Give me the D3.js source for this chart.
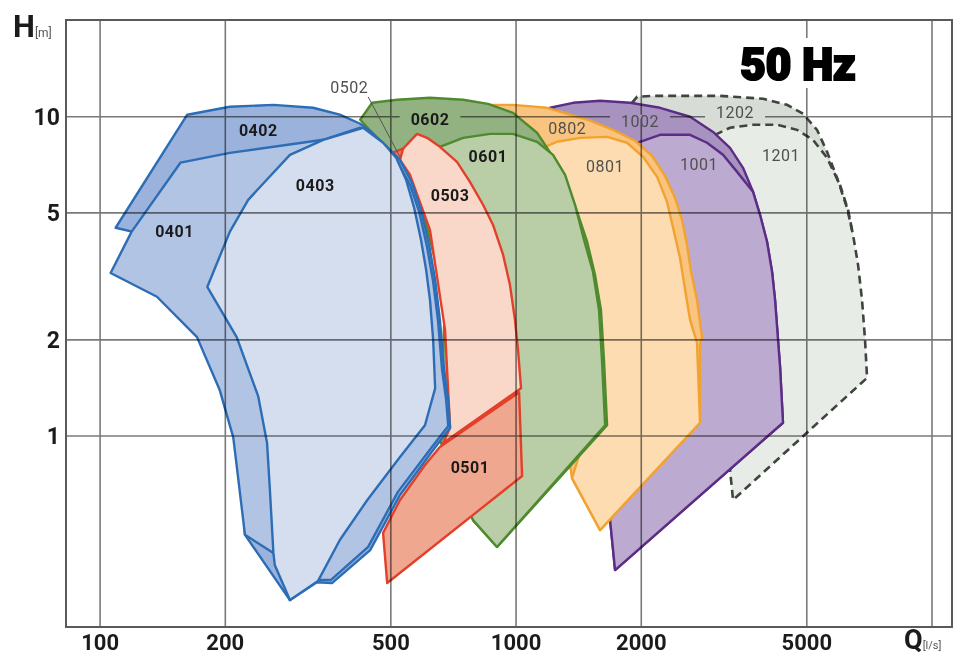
<!DOCTYPE html>
<html>
<head>
<meta charset="utf-8">
<script src="https://cdn.jsdelivr.net/npm/d3@7/dist/d3.min.js"></script>
<style>
  body { margin: 0; background: #fff; }
  svg { display: block; font-family: Roboto, "DejaVu Sans", sans-serif; }
</style>
</head>
<body>
<svg id="chart" width="965" height="656"></svg>
<script>
// axes
var xTicks = [100, 200, 500, 1000, 2000, 5000];
var xGrid = [100, 200, 500, 1000, 2000, 5000, 10000];
var yTicks = [1, 2, 5, 10];

// operating ranges as [Q l/s, H m] outlines
var range1202 = [[1900,11.06],[1954,11.55],[2135,11.63],[3094,11.63],[3926,11.39],[4481,10.9],[4897,10.22],[5292,9.1],[5593,7.77],[5910,6.44],[6248,5.18],[6458,4.27],[6640,3.44],[6788,2.67],[6902,2.0],[6980,1.52],[3324,0.63],[3269,0.782],[3859,1.12],[3859,3.83],[2620,9.44]];
var range1201 = [[3009,8.78],[3269,9.24],[3713,9.44],[4241,9.44],[4737,9.1],[5174,8.47],[5593,7.44],[6008,6.12],[6283,5.11],[6458,4.27],[6640,3.44],[6788,2.67],[6902,2.0],[6980,1.52],[3324,0.63],[3269,0.782],[3859,1.12],[3859,3.83]];
var range1002 = [[1207,10.67],[1371,11.06],[1592,11.22],[1879,11.06],[2219,10.67],[2620,10.0],[2976,8.96],[3269,7.99],[3513,6.92],[3713,5.82],[3859,4.93],[4012,4.06],[4125,3.27],[4194,2.67],[4312,1.645],[4383,1.10],[1730,0.38],[1683,0.545],[1986,0.904],[2219,2.67],[1778,8.47]];
var range1001 = [[1986,8.35],[2219,8.78],[2620,8.78],[2878,8.29],[3145,7.6],[3399,6.72],[3713,5.82],[3859,4.93],[4012,4.06],[4125,3.27],[4194,2.67],[4312,1.645],[4383,1.10],[1730,0.38],[1683,0.545],[1986,0.904],[2219,2.67],[1879,8.05]];
var range0802 = [[866,10.9],[983,10.9],[1187,10.67],[1327,10.22],[1506,9.72],[1711,9.1],[1932,8.41],[2123,7.55],[2281,6.53],[2411,5.57],[2506,4.76],[2577,3.97],[2635,3.27],[2723,2.67],[2799,2.04],[2769,1.93],[2769,1.1],[1592,0.507],[1363,0.738],[1276,1.3],[1349,3.83],[1142,7.33]];
var range0801 = [[1174,8.05],[1255,8.35],[1425,8.59],[1655,8.65],[1849,8.29],[2020,7.49],[2183,6.48],[2307,5.41],[2385,4.49],[2479,3.61],[2549,2.87],[2620,2.31],[2723,1.96],[2769,1.1],[1592,0.507],[1363,0.738],[1506,1.12],[1548,2.67],[1312,5.49]];
var range0602 = [[422,9.79],[451,11.06],[518,11.31],[621,11.47],[746,11.31],[856,10.98],[983,10.29],[1123,8.91],[1227,7.49],[1327,6.12],[1402,5.04],[1482,4.06],[1548,3.2],[1600,2.48],[1627,1.73],[1655,1.08],[900,0.449],[788,0.545],[656,0.97],[675,2.67],[588,5.49],[515,7.44],[451,8.91]];
var range0601 = [[656,8.05],[746,8.59],[866,8.84],[983,8.84],[1123,8.35],[1227,7.6],[1312,6.58],[1386,5.3],[1457,4.11],[1531,3.27],[1583,2.48],[1609,1.73],[1637,1.08],[900,0.449],[788,0.545],[694,0.782],[915,2.67],[713,6.58]];
var range0501 = [[656,0.924],[1017,1.37],[1034,0.749],[490,0.346],[479,0.497],[526,0.63],[604,0.811]];
var range0503 = [[520,7.49],[532,7.88],[578,8.84],[611,8.59],[656,8.05],[721,7.22],[774,6.26],[833,5.3],[880,4.59],[931,3.69],[967,2.97],[994,2.31],[1011,1.86],[1028,1.41],[668,0.95],[694,1.06],[675,2.15],[621,4.42],[556,6.58]];
var range0502 = [[503,7.71],[535,7.94],[526,7.33]];
var range0402 = [[109,4.49],[162,10.15],[205,10.75],[261,10.9],[325,10.67],[377,10.15],[422,9.51],[451,8.91],[487,8.11],[526,7.33],[562,6.21],[591,5.11],[618,3.97],[639,3.08],[656,2.31],[671,1.61],[687,1.30],[694,1.06],[632,0.904],[526,0.653],[446,0.439],[361,0.346],[332,0.348],[286,0.306],[223,0.49],[217,0.97],[174,2.67],[132,4.11],[120,4.36]];
var range0401 = [[106,3.24],[119,4.36],[156,7.18],[205,7.71],[344,8.47],[422,9.24],[482,8.05],[520,7.18],[556,6.12],[585,5.04],[611,3.91],[632,3.04],[649,2.31],[664,1.61],[679,1.30],[687,1.075],[625,0.917],[520,0.668],[441,0.449],[359,0.354],[332,0.354],[286,0.306],[261,0.43],[223,0.49],[215,0.728],[209,0.99],[194,1.39],[171,2.04],[137,2.73]];
var range0403 = [[181,2.93],[205,4.36],[227,5.49],[249,6.26],[286,7.6],[344,8.47],[429,9.24],[479,8.29],[515,7.44],[544,6.35],[569,5.18],[591,4.11],[608,3.31],[621,2.67],[632,2.0],[639,1.41],[604,1.08],[526,0.859],[439,0.63],[377,0.472],[334,0.351],[303,0.322],[286,0.306],[263,0.394],[261,0.43],[256,0.677],[252,0.95],[240,1.33],[213,2.04]];

// labels
var labelNames = ['0402', '0403', '0401', '0503', '0602', '0601', '0501', '0502', '0802', '0801', '1002', '1001', '1202', '1201'];
var labelQ = [240, 329, 151, 694, 621, 856, 775, 397, 1327, 1637, 1986, 2754, 3361, 4336];
var labelH = [9.04, 6.08, 4.36, 5.65, 9.79, 7.49, 0.794, 12.33, 9.17, 6.97, 9.65, 7.07, 10.29, 7.55];
var leader0502 = [[441, 11.55], [526, 7.49]];

var blue = '#2c6db5', red = '#e2402b', green = '#4f8a2e', orange = '#f2a230', purple = '#5b2d86', grey = '#3f443f';

// draw order: back to front. the two grey ranges are dashed and
// get their outlines after both fills, so neither fill eats a dash
var greyShapes = [
  {id: '1202', pts: range1202, fill: '#d7ddd6', stroke: grey, dash: '8,5'},
  {id: '1201', pts: range1201, fill: '#e8ece7', stroke: grey, dash: '8,5', edge: 10}
];
var shapes = [
  {id: '1002', pts: range1002, fill: '#a893c0', stroke: purple},
  {id: '1001', pts: range1001, fill: '#bcaad0', stroke: purple},
  {id: '0802', pts: range0802, fill: '#f8c47f', stroke: orange},
  {id: '0801', pts: range0801, fill: '#fcdcb0', stroke: orange},
  {id: '0602', pts: range0602, fill: '#93b281', stroke: green},
  {id: '0601', pts: range0601, fill: '#b9cda6', stroke: green},
  {id: '0501', pts: range0501, fill: '#f0a78f', stroke: red},
  {id: '0503', pts: range0503, fill: '#f9d8ca', stroke: red},
  {id: '0502', pts: range0502, fill: '#ee7a5c', stroke: red},
  {id: '0402', pts: range0402, fill: '#9bb3dc', stroke: blue},
  {id: '0401', pts: range0401, fill: '#b2c4e4', stroke: blue},
  {id: '0403', pts: range0403, fill: '#d5deef', stroke: blue}
];

var width = 965, height = 656;
var margin = {top: 20, right: 13, bottom: 29, left: 66};

var svg = d3.select('#chart');

var x = d3.scaleLog()
  .domain([82.8, 11170])
  .range([margin.left, width - margin.right]);

var y = d3.scaleLog()
  .domain([0.252, 20.1])
  .range([height - margin.bottom, margin.top]);

var line = d3.line()
  .x(function (d) { return x(d[0]); })
  .y(function (d) { return y(d[1]); });

// SHAPES
var shapeG = svg.append('g').attr('class', 'ranges');

// grey: fills first, then dashed outlines
greyShapes.forEach(function (s) {
  shapeG.append('path')
    .attr('d', line(s.pts) + 'Z')
    .attr('fill', s.fill);
});
greyShapes.forEach(function (s) {
  var pts = s.edge ? s.pts.slice(0, s.edge) : s.pts;
  shapeG.append('path')
    .attr('d', line(pts) + (s.edge ? '' : 'Z'))
    .attr('fill', 'none')
    .attr('stroke', s.stroke)
    .attr('stroke-width', 2.6)
    .attr('stroke-dasharray', s.dash);
});

shapes.forEach(function (s) {
  shapeG.append('path')
    .attr('id', 'range-' + s.id)
    .attr('d', line(s.pts) + 'Z')
    .attr('fill', s.fill)
    .attr('stroke', s.stroke)
    .attr('stroke-width', 2.4)
    .attr('stroke-linejoin', 'round');
});

// GRID (over the fills, like the print)
var gridG = svg.append('g').attr('class', 'grid')
  .style('mix-blend-mode', 'multiply');

gridG.selectAll('line.vx')
  .data(xGrid)
  .enter().append('line')
  .attr('class', 'vx')
  .attr('x1', x).attr('x2', x)
  .attr('y1', margin.top).attr('y2', height - margin.bottom)
  .attr('stroke', '#7a7a7a')
  .attr('stroke-width', 1.6);

gridG.selectAll('line.hy')
  .data(yTicks)
  .enter().append('line')
  .attr('class', 'hy')
  .attr('y1', y).attr('y2', y)
  .attr('x1', margin.left).attr('x2', width - margin.right)
  .attr('stroke', '#7a7a7a')
  .attr('stroke-width', 1.6);

// frame
svg.append('rect')
  .attr('x', margin.left)
  .attr('y', margin.top)
  .attr('width', width - margin.left - margin.right)
  .attr('height', height - margin.top - margin.bottom)
  .attr('fill', 'none')
  .attr('stroke', '#5a5a5a')
  .attr('stroke-width', 2);

// tick labels
svg.append('g').selectAll('text')
  .data(xTicks)
  .enter().append('text')
  .attr('x', x)
  .attr('y', 650)
  .attr('text-anchor', 'middle')
  .style('font-size', '22px')
  .style('font-weight', 700)
  .attr('fill', '#1b1b1b')
  .text(function (d) { return d; });

svg.append('g').selectAll('text')
  .data(yTicks)
  .enter().append('text')
  .attr('x', 60)
  .attr('y', function (d) { return y(d) + 8.5; })
  .attr('text-anchor', 'end')
  .style('font-size', '23px')
  .style('font-weight', 700)
  .attr('fill', '#1b1b1b')
  .text(function (d) { return d; });

// axis titles
var hTitle = svg.append('text').attr('x', 13).attr('y', 37).attr('fill', '#1b1b1b');
hTitle.append('tspan').style('font-size', '31px').style('font-weight', 700).text('H');
hTitle.append('tspan').style('font-size', '12px').attr('fill', '#555').text('[m]');

var qTitle = svg.append('text').attr('x', 904).attr('y', 649).attr('fill', '#1b1b1b');
qTitle.append('tspan').style('font-size', '27px').style('font-weight', 700).text('Q');
qTitle.append('tspan').style('font-size', '11px').attr('fill', '#555').text('[l/s]');

// LABELS
var boldLabels = ['0402', '0403', '0401', '0503', '0602', '0601', '0501'];
var gapFill = {'0602': '#93b281', '1002': '#a893c0', '1202': '#d7ddd6'};

svg.append('path')
  .attr('d', line(leader0502))
  .attr('stroke', '#555')
  .attr('stroke-width', 1)
  .attr('fill', 'none');

var labelG = svg.append('g').attr('class', 'labels');

labelNames.forEach(function (name, i) {
  var isBold = boldLabels.indexOf(name) !== -1;
  var t = labelG.append('text')
    .attr('x', x(labelQ[i]))
    .attr('y', y(labelH[i]) + 5.5)
    .attr('text-anchor', 'middle')
    .style('font-size', '16px')
    .style('font-weight', isBold ? 700 : 400)
    .style('letter-spacing', '0.5px')
    .attr('fill', isBold ? '#1a1a1a' : '#505050')
    .text(name);
  if (gapFill[name]) {
    // knock the 10 m grid line out around the label
    var bb = t.node().getBBox();
    labelG.insert('rect', 'text')
      .attr('x', bb.x - 11)
      .attr('y', y(10) - 2)
      .attr('width', bb.width + 22)
      .attr('height', 4)
      .attr('fill', gapFill[name]);
  }
});

// 50 Hz
svg.append('rect')
  .attr('x', 726).attr('y', 38)
  .attr('width', 146).attr('height', 50)
  .attr('fill', '#fff');

svg.append('text')
  .attr('x', 798)
  .attr('y', 80)
  .attr('text-anchor', 'middle')
  .style('font-size', '44px')
  .style('font-weight', 900)
  .attr('fill', '#000')
  .attr('stroke', '#000')
  .attr('stroke-width', 2.2)
  .text('50 Hz');
</script>
</body>
</html>
